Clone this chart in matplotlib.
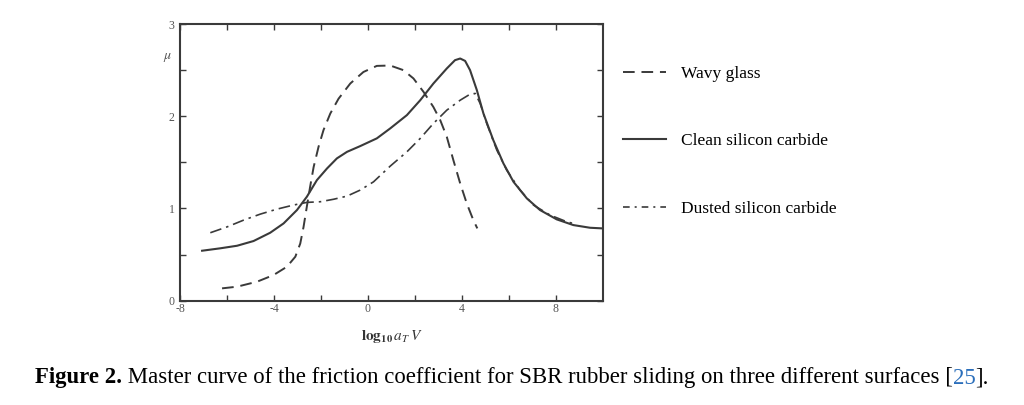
import matplotlib
matplotlib.use("Agg")
import matplotlib.pyplot as plt

plt.rcParams["axes.unicode_minus"] = False
plt.rcParams["mathtext.fontset"] = "stix"

# ---- data ----
wavy_x = [-6.21, -5.57, -4.72, -4.02, -3.45, -3.09, -2.88, -2.74, -2.60, -2.46, -2.31, -2.10,
          -1.89, -1.60, -1.25, -0.75, -0.19, 0.38, 0.95, 1.51, 1.94, 2.37, 2.79, 3.08,
          3.36, 3.64, 3.93, 4.21, 4.49, 4.66]
wavy_y = [0.134, 0.152, 0.206, 0.278, 0.368, 0.477, 0.62, 0.80, 1.02, 1.235, 1.45, 1.67,
          1.85, 2.03, 2.19, 2.355, 2.48, 2.546, 2.55, 2.50, 2.41, 2.264, 2.10, 1.958,
          1.777, 1.524, 1.272, 1.055, 0.874, 0.784]

clean_x = [-7.06, -6.29, -5.57, -4.87, -4.16, -3.59, -3.02, -2.60, -2.17, -1.74, -1.32, -0.89,
           -0.33, 0.38, 0.95, 1.66, 2.23, 2.79, 3.36, 3.71, 3.93, 4.14, 4.35, 4.64, 4.92,
           5.34, 5.77, 6.20, 6.77, 7.33, 8.04, 8.75, 9.46, 10.0]
clean_y = [0.542, 0.568, 0.596, 0.647, 0.737, 0.838, 0.983, 1.127, 1.308, 1.434, 1.543, 1.614,
           1.676, 1.76, 1.868, 2.012, 2.174, 2.355, 2.518, 2.608, 2.626, 2.60, 2.50, 2.283, 2.03,
           1.741, 1.489, 1.289, 1.109, 0.983, 0.882, 0.82, 0.791, 0.784]

dusted_x = [-6.71, -6.0, -5.29, -4.58, -3.87, -3.17, -2.60, -2.03, -1.46, -0.89, -0.33, 0.24,
            0.95, 1.66, 2.23, 2.79, 3.36, 3.93, 4.35, 4.57, 4.78, 5.06, 5.49, 5.91, 6.48,
            7.05, 7.76, 8.47, 8.89]
dusted_y = [0.737, 0.80, 0.874, 0.939, 0.993, 1.037, 1.066, 1.073, 1.10, 1.134, 1.199, 1.289,
            1.459, 1.614, 1.76, 1.922, 2.066, 2.174, 2.239, 2.247, 2.139, 1.922, 1.633, 1.416,
            1.199, 1.037, 0.928, 0.856, 0.828]

legend_labels = ["Wavy glass", "Clean silicon carbide", "Dusted silicon carbide"]
x_ticks = [-8, -4, 0, 4, 8]
x_minor = [-6, -2, 2, 6]
y_ticks = [0, 1, 2, 3]
y_minor = [0.5, 1.5, 2.5]
caption_bold = "Figure 2."
caption_text = " Master curve of the friction coefficient for SBR rubber sliding on three different surfaces ["
caption_ref = "25"
caption_end = "]."

LC = "#3a3a3a"
serif = ["Liberation Serif", "DejaVu Serif"]

fig = plt.figure(figsize=(10.24, 4.05), dpi=100)
ax = fig.add_axes([0.1758, 0.2575, 0.4128, 0.6832])

l1, = ax.plot(wavy_x, wavy_y, color=LC, lw=1.4, linestyle=(0, (6, 3.5)))
l2, = ax.plot(clean_x, clean_y, color=LC, lw=1.5, linestyle="-")
l3, = ax.plot(dusted_x, dusted_y, color=LC, lw=1.2, linestyle=(0, (7, 3, 1.5, 3)))

ax.set_xlim(-8, 10)
ax.set_ylim(0, 3)
ax.set_xticks(x_ticks)
ax.set_xticks(x_minor, minor=True)
ax.set_yticks(y_ticks)
ax.set_yticks(y_minor, minor=True)
ax.tick_params(which="both", direction="in", top=True, right=True, length=4,
               width=1.0, color=LC, labelsize=8.5)
ax.tick_params(axis="x", pad=2)
ax.tick_params(axis="y", pad=4)
for lab in ax.get_xticklabels() + ax.get_yticklabels():
    lab.set_family(serif)
    lab.set_color("#555555")
for s in ax.spines.values():
    s.set_linewidth(1.5)
    s.set_color(LC)

ax.set_xlabel(r"$\mathbf{log_{10}}\,a_T\,V$", fontsize=11, labelpad=9, color="#333333")
ax.text(-0.018, 0.88, r"$\mu$", transform=ax.transAxes, fontsize=10, ha="right",
        va="center", color="#555555")

# legend
leg = fig.legend([l1, l2, l3], legend_labels, loc="upper left",
                 bbox_to_anchor=(0.5928, 0.876), frameon=False, handlelength=2.48,
                 handletextpad=0.86, labelspacing=2.95,
                 prop={"family": serif, "size": 12.5})
leg.get_lines()[2].set_linestyle((0, (4, 3, 1.2, 3)))

# caption
fig.canvas.draw()
r = fig.canvas.get_renderer()
x0 = 35 / 1024
yc = 1 - 378 / 405
t = fig.text(x0, yc, caption_bold, fontsize=16.4, fontweight="bold", family=serif,
             va="center", ha="left")
for txt, col in [(caption_text, "black"), (caption_ref, "#2a6ebb"), (caption_end, "black")]:
    bb = t.get_window_extent(r)
    t = fig.text(bb.x1 / fig.bbox.width, yc, txt, fontsize=16.4, family=serif,
                 va="center", ha="left", color=col)

fig.savefig("out.png", dpi=100, facecolor="white")
